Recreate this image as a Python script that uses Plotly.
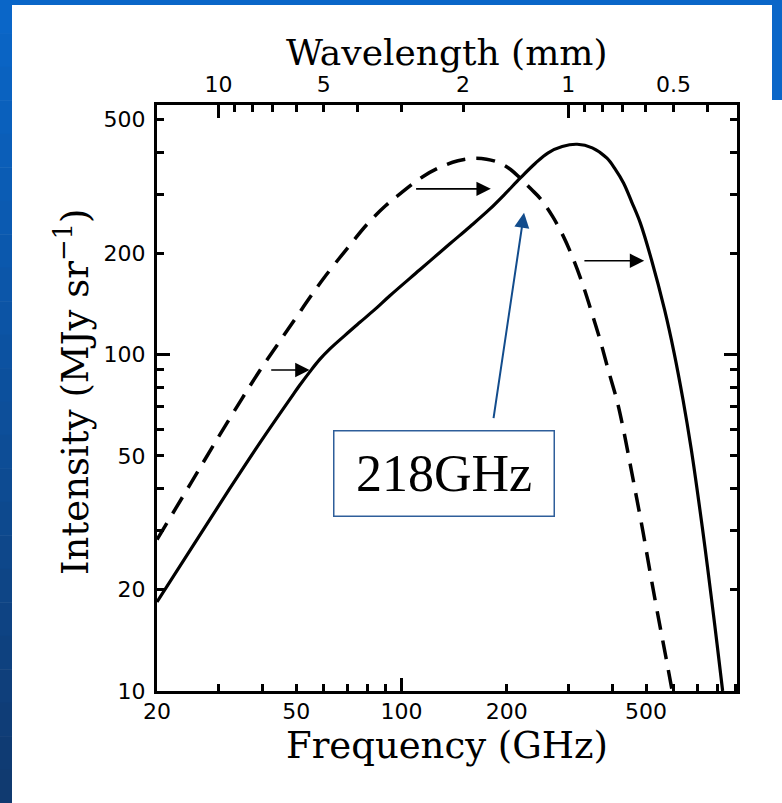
import numpy as np
import plotly.graph_objects as go

# ---------------- data ----------------
# undistorted spectrum (dashed)
freq_cmb = [20, 25, 30, 35, 40, 45, 50, 55, 60, 70, 80, 90, 100, 115, 130, 145, 160, 175,
            190, 205, 218, 235, 250, 270, 290, 310, 330, 350, 370, 390, 413, 430, 450,
            470, 490, 510, 530, 550, 570, 594]
int_cmb = [28.2, 41.5, 57, 74, 92, 110, 129, 149, 169, 207, 245, 277, 303, 338, 362, 377,
           383, 381, 372, 355, 335, 310, 290, 258, 225, 192, 161, 133, 110, 90, 73, 60.5,
           47.5, 37.5, 29.8, 23.5, 18.8, 15.3, 12.6, 10]

# distorted spectrum (solid)
freq_sz = [20, 24.7, 32.2, 39.8, 48.8, 51.1, 54.6, 58.3, 62.3, 68.8, 75.9, 83.8, 92.6,
           112.8, 137.5, 156.9, 179, 197.7, 218.3, 241, 262.6, 288, 317.9, 351, 386.7,
           408.6, 431.5, 455.5, 481.7, 518.3, 564.9, 601.3, 637.7, 673.4, 706.3, 738.2,
           769.6, 798, 828]
int_sz = [18.4, 25.9, 39.8, 55.6, 75.6, 80.9, 88.7, 96.6, 103.8, 113.9, 124.5, 136, 149.6,
          178.7, 213.5, 240, 271, 300.4, 334.5, 370, 398, 415.4, 421.9, 411.6, 383.5,
          355.2, 323.2, 283.5, 245.9, 191.4, 136, 101.4, 73.5, 52.3, 37.1, 26.4,
          18.75, 13.8, 10]

freq_ticks = [20, 50, 100, 200, 500]
freq_minor = [30, 40, 60, 70, 80, 90, 300, 400, 600, 700, 800, 900]
int_ticks = [10, 20, 50, 100, 200, 500]
int_minor = [30, 40, 60, 70, 80, 90, 300, 400]
wl_labels = ["10", "5", "2", "1", "0.5"]
wl_ticks_mm = [10, 5, 2, 1, 0.5]
wl_minor_mm = [9, 8, 7, 6, 4, 3, 0.9, 0.8, 0.7, 0.6, 0.4]
wl_major_mm = [10, 1]

# shift arrows (tail freq, head freq, intensity)
arrow_tail = [42, 109, 330]
arrow_head = [54.6, 180, 494]
arrow_int = [90, 311, 190]

label_text = "218GHz"
label_pos = (132, 44.4)
pointer_tail = (183, 64.1)
pointer_head = (224, 264)

X_RANGE = [np.log10(20), np.log10(910)]
Y_RANGE = [1.0, np.log10(552)]

TITLE_FONT = "DejaVu Serif"


def mm_to_ghz(v):
    return [299.79 / w for w in v]


fig = go.Figure()
fig.add_trace(go.Scatter(x=freq_cmb, y=int_cmb, mode="lines",
                         line=dict(color="black", width=3.5, dash="19px,11px",
                                   shape="spline", smoothing=1.0),
                         showlegend=False, hoverinfo="skip"))
fig.add_trace(go.Scatter(x=freq_sz, y=int_sz, mode="lines",
                         line=dict(color="black", width=3.2, shape="spline", smoothing=1.0),
                         showlegend=False, hoverinfo="skip"))
# invisible anchors for helper axes
for xa, ya in [("x2", "y"), ("x3", "y"), ("x4", "y"), ("x", "y2"), ("x", "y3")]:
    fig.add_trace(go.Scatter(x=[100], y=[100], xaxis=xa, yaxis=ya, mode="markers",
                             marker=dict(opacity=0), showlegend=False, hoverinfo="skip"))

tickfont = dict(family="DejaVu Sans", size=22, color="black")
common = dict(type="log", showgrid=False, zeroline=False, ticks="inside",
              tickcolor="black", tickwidth=2.5, tickfont=tickfont)

fig.update_layout(
    width=782, height=803, autosize=False,
    margin=dict(l=157, r=45, t=105, b=112, pad=0),
    paper_bgcolor="white", plot_bgcolor="white",
    xaxis=dict(**common, range=X_RANGE, tickmode="array", tickvals=freq_ticks,
               ticktext=[str(v) for v in freq_ticks], ticklen=7,
               showline=True, linewidth=3, linecolor="black", mirror=True,
               ticklabelstandoff=-1,
               minor=dict(tickvals=freq_minor, ticks="inside", ticklen=7, tickwidth=2.5,
                          tickcolor="black", showgrid=False),
               title=dict(text="Frequency (GHz)", standoff=2,
                          font=dict(family=TITLE_FONT, size=37, color="black"))),
    xaxis2=dict(**common, range=X_RANGE, overlaying="x", side="top", anchor="y",
                tickmode="array", tickvals=mm_to_ghz(wl_ticks_mm), ticktext=wl_labels,
                ticklen=7, showline=False, ticklabelstandoff=8,
                minor=dict(tickvals=mm_to_ghz(wl_minor_mm), ticks="inside", ticklen=7,
                           tickwidth=2.5, tickcolor="black", showgrid=False)),
    xaxis3=dict(**common, range=X_RANGE, overlaying="x", side="bottom", anchor="y",
                tickmode="array", tickvals=[100], ticklen=13, showticklabels=False,
                showline=False),
    xaxis4=dict(**common, range=X_RANGE, overlaying="x", side="top", anchor="y",
                tickmode="array", tickvals=mm_to_ghz(wl_major_mm), ticklen=13,
                showticklabels=False, showline=False),
    yaxis=dict(**common, range=Y_RANGE, tickmode="array", tickvals=int_ticks,
               ticktext=[str(v) for v in int_ticks], ticklen=7,
               showline=True, linewidth=3, linecolor="black", mirror="allticks",
               ticklabelstandoff=4,
               minor=dict(tickvals=int_minor, ticks="inside", ticklen=7, tickwidth=2.5,
                          tickcolor="black", showgrid=False)),
    yaxis2=dict(**common, range=Y_RANGE, overlaying="y", side="left", anchor="x",
                tickmode="array", tickvals=[100], ticklen=13, showticklabels=False,
                showline=False),
    yaxis3=dict(**common, range=Y_RANGE, overlaying="y", side="right", anchor="x",
                tickmode="array", tickvals=[100], ticklen=13, showticklabels=False,
                showline=False),
)


# background (slide look): blue bar on top, blue gradient bar on the left
def px2paper_x(px):
    return (px - 157) / 580.0


def px2paper_y(py):
    return (691 - py) / 586.0


shapes = [
    dict(type="rect", xref="paper", yref="paper", layer="below",
         x0=px2paper_x(0), x1=px2paper_x(782), y0=px2paper_y(5), y1=px2paper_y(0),
         fillcolor="#0A66C8", line=dict(width=0)),
    dict(type="rect", xref="paper", yref="paper", layer="below",
         x0=px2paper_x(772), x1=px2paper_x(782), y0=px2paper_y(100), y1=px2paper_y(0),
         fillcolor="#0A66C8", line=dict(width=0)),
]
n = 24
top_c = np.array([10, 102, 200])
bot_c = np.array([16, 58, 112])
for i in range(n):
    t = i / (n - 1)
    c = (1 - t) * top_c + t * bot_c
    col = "rgb(%d,%d,%d)" % tuple(c.astype(int))
    y0p = i * (803 / n)
    y1p = (i + 1) * (803 / n)
    shapes.append(dict(type="rect", xref="paper", yref="paper", layer="below",
                       x0=px2paper_x(0), x1=px2paper_x(12),
                       y0=px2paper_y(y1p + 0.5), y1=px2paper_y(y0p),
                       fillcolor=col, line=dict(width=0)))
fig.update_layout(shapes=shapes)

annotations = [
    dict(text="Wavelength (mm)", xref="paper", yref="paper", x=0.5,
         y=px2paper_y(52), xanchor="center", yanchor="middle", showarrow=False,
         font=dict(family=TITLE_FONT, size=36, color="black")),
    dict(text="Intensity (MJy sr<sup>\u22121</sup>)", xref="paper", yref="paper",
         x=px2paper_x(72), y=px2paper_y(392), xanchor="center", yanchor="middle",
         textangle=-90, showarrow=False,
         font=dict(family=TITLE_FONT, size=37, color="black")),
]
for t, h, v in zip(arrow_tail, arrow_head, arrow_int):
    annotations.append(dict(x=np.log10(h), y=np.log10(v), ax=np.log10(t), ay=np.log10(v),
                            xref="x", yref="y", axref="x", ayref="y", text="",
                            showarrow=True, arrowhead=2, arrowsize=1.8, arrowwidth=1.6,
                            arrowcolor="black"))
annotations.append(dict(x=np.log10(pointer_head[0]), y=np.log10(pointer_head[1]),
                        ax=np.log10(pointer_tail[0]), ay=np.log10(pointer_tail[1]),
                        xref="x", yref="y", axref="x", ayref="y", text="",
                        showarrow=True, arrowhead=2, arrowsize=1.5, arrowwidth=2,
                        arrowcolor="#124C8C"))
annotations.append(dict(x=np.log10(label_pos[0]), y=np.log10(label_pos[1]), xref="x", yref="y",
                        text=label_text, showarrow=False, width=219, height=84,
                        bordercolor="#2E5E9A", borderwidth=1.5, borderpad=0, bgcolor="white",
                        font=dict(family="Liberation Serif", size=52, color="black")))
fig.update_layout(annotations=annotations)

fig.write_html("out.html")
